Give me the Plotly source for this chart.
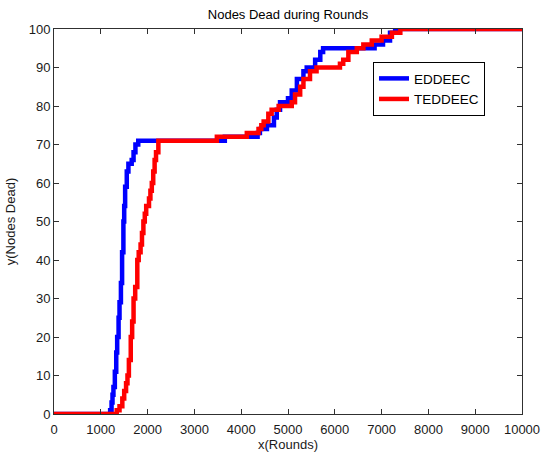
import plotly.graph_objects as go

# EDDEEC step data (round at which count changes, dead nodes)
eddeec_rounds = [0, 1200, 1230, 1250, 1270, 1300, 1330, 1350, 1380, 1400, 1430, 1455, 1483, 1500, 1520,
                 1555, 1590, 1660, 1700, 1740, 1800, 3650, 4350, 4400, 4550, 4700, 4760, 4830, 5000,
                 5080, 5190, 5330, 5400, 5580, 5690, 5750, 6850, 7030, 7180, 7290, 10000]
eddeec_dead = [0, 1, 3, 5, 7, 11, 16, 20, 25, 29, 34, 42, 50, 54, 59,
               63, 65, 66, 68, 70, 71, 72, 73, 74, 75, 77, 79, 81, 82,
               84, 87, 89, 90, 92, 94, 95, 96, 97, 99, 100, 100]

# TEDDEEC step data
teddeec_rounds = [0, 1340, 1400, 1460, 1500, 1540, 1570, 1600, 1640, 1670, 1700, 1735, 1780, 1810, 1850,
                  1880, 1910, 1940, 1970, 2030, 2060, 2090, 2120, 2150, 2180, 2230, 3480, 4120, 4370,
                  4430, 4480, 4580, 4650, 4800, 5080, 5150, 5260, 5330, 5470, 5610, 6110, 6180, 6290,
                  6470, 6610, 6790, 7000, 7220, 7400, 10000]
teddeec_dead = [0, 1, 2, 4, 6, 8, 10, 14, 20, 24, 30, 33, 40, 42, 44,
                47, 50, 52, 54, 56, 58, 60, 63, 66, 68, 71, 72, 73, 74,
                75, 76, 78, 79, 80, 81, 83, 85, 87, 89, 90, 91, 92, 94,
                95, 96, 97, 98, 99, 100, 100]

x_ticks = list(range(0, 10001, 1000))
x_tick_labels = [str(v) for v in x_ticks]
y_ticks = list(range(0, 101, 10))
y_tick_labels = [str(v) for v in y_ticks]

FONT = "Liberation Sans, Arial, Helvetica, sans-serif"

fig = go.Figure()
fig.add_trace(go.Scatter(x=eddeec_rounds, y=eddeec_dead, mode="lines", name="EDDEEC",
                         line=dict(color="#0000FF", width=4.5, shape="hv")))
fig.add_trace(go.Scatter(x=teddeec_rounds, y=teddeec_dead, mode="lines", name="TEDDEEC",
                         line=dict(color="#FF0000", width=4.5, shape="hv")))

axis_common = dict(showline=True, linecolor="#303030", linewidth=1, mirror="ticks",
                   ticks="inside", ticklen=5, tickcolor="#303030", showgrid=False, zeroline=False,
                   automargin=False,
                   tickfont=dict(family=FONT, size=13, color="#1a1a1a"))

W, H = 544, 460

fig.update_layout(
    width=W, height=H,
    margin=dict(l=54, r=22, t=29, b=46),
    paper_bgcolor="white", plot_bgcolor="white",
    font=dict(family=FONT, size=13, color="#1a1a1a"),
    title=dict(text="Nodes Dead during Rounds", x=288 / W, xanchor="center",
               y=1 - 14.5 / H, yanchor="middle", yref="container",
               font=dict(family=FONT, size=13, color="#000000")),
    xaxis=dict(range=[0, 10000], tickmode="array", tickvals=x_ticks, ticktext=x_tick_labels,
               ticklabelstandoff=3,
               title=dict(text="x(Rounds)", standoff=3, font=dict(family=FONT, size=13)),
               **axis_common),
    yaxis=dict(range=[0, 100], tickmode="array", tickvals=y_ticks, ticktext=y_tick_labels,
               title=dict(text="y(Nodes Dead)", standoff=10, font=dict(family=FONT, size=13)),
               **axis_common),
    legend=dict(x=0.6816, y=0.914, xanchor="left", yanchor="top",
                bordercolor="#000000", borderwidth=1, bgcolor="white",
                font=dict(family=FONT, size=13.5, color="#000000"),
                tracegroupgap=0),
    showlegend=True,
)

# remove the default 8px body margin so the 544x460 figure fills the window exactly
fig.write_html("out.html", config={"displayModeBar": False},
               post_script="document.body.style.margin='0px';")
